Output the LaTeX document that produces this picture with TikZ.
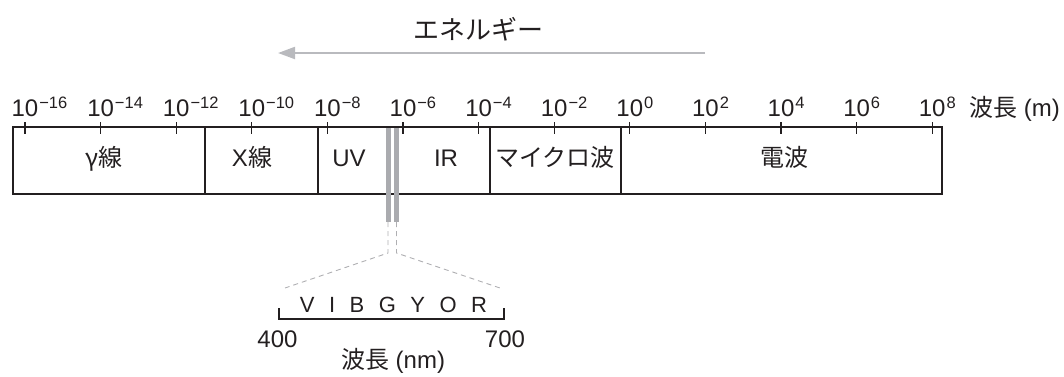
\documentclass[tikz,border=0pt]{standalone}
\usepackage{fontspec}
\setmainfont{Liberation Sans}
\newfontfamily\jp{Noto Sans CJK JP}
\usetikzlibrary{arrows.meta}
\definecolor{ink}{RGB}{35,31,32}
\definecolor{arrowgray}{RGB}{185,186,190}
\definecolor{bargray}{RGB}{170,171,175}
\definecolor{dashgray}{RGB}{175,175,178}
\newcommand{\tenpow}[1]{10\rlap{\kern1pt\raisebox{8pt}{\fontsize{16.5}{18}\selectfont #1}}}
\newcommand{\cg}{\hspace{14.5pt}}
\tikzset{
  axisline/.style={draw=ink, line width=1.1pt},
  ticklbl/.style={anchor=base, inner sep=0pt, text=ink, font=\fontsize{24}{28}\selectfont},
  bandlbl/.style={anchor=base, inner sep=0pt, text=ink, font=\fontsize{24}{28}\selectfont},
  visbar/.style={fill=bargray},
  zoomdash/.style={draw=dashgray, line width=0.9pt, dash pattern=on 5pt off 4pt},
  colorlbl/.style={anchor=base, inner sep=0pt, text=ink, font=\fontsize{22}{26}\selectfont},
}
\begin{document}
\begin{tikzpicture}[x=1pt,y=-1pt]
\useasboundingbox (0,0) rectangle (1064,376);
% energy arrow
\coordinate (eR) at (705,53);
\coordinate (eL) at (278,53);
\draw[draw=arrowgray, line width=2pt, -{Triangle[length=17pt,width=12pt,fill=arrowgray]}] (eR) -- (eL);
\node[anchor=base, inner sep=0pt, text=ink, font=\jp\fontsize{26}{30}\selectfont] (energy) at (478,39) {エネルギー};
% main box
\draw[axisline] (13,127) rectangle (942,194);
\foreach \x in {205,318,490,621} \draw[axisline] (\x,127) -- (\x,194);
% ticks and labels
\foreach \k/\e in {0/−16,1/−14,2/−12,3/−10,4/−8,5/−6,6/−4,7/−2,8/0,9/2,10/4,11/6,12/8}{
  \pgfmathsetmacro{\xx}{25+75.6*\k}
  \draw[axisline] (\xx,122) -- (\xx,134);
  \node[ticklbl] (t\k) at (\xx,116) {\tenpow{\e}};
}
\node[anchor=base west, inner sep=0pt, text=ink, font=\fontsize{24}{28}\selectfont] (unitm) at (969,116) {{\jp 波長} (m)};
% band labels
\node[bandlbl] (gamma) at (104,166) {\jp γ線};
\node[bandlbl] (xray) at (252,166) {X{\jp 線}};
\node[bandlbl] (uv) at (349,166) {UV};
\node[bandlbl] (ir) at (446,166) {IR};
\node[bandlbl] (micro) at (555,166) {\jp マイクロ波};
\node[bandlbl] (radio) at (784,166) {\jp 電波};
% visible bars
\fill[visbar] (385.5,128) rectangle (390.5,222);
\fill[visbar] (394,128) rectangle (399,222);
% zoom dashes
\coordinate (b1) at (388,222);
\coordinate (b2) at (396.5,222);
\coordinate (k1) at (388,253);
\coordinate (k2) at (396.5,253);
\coordinate (d1) at (285,288);
\coordinate (d2) at (500,288);
\draw[zoomdash] (b1) -- (k1) -- (d1);
\draw[zoomdash] (b2) -- (k2) -- (d2);
% bracket
\draw[draw=ink, line width=1.1pt] (279,308) -- (279,319) -- (504,319) -- (504,308);
\node[colorlbl] (vibgyor) at (393.5,312) {V\cg I\cg B\cg G\cg Y\cg O\cg R};
\node[ticklbl] (n400) at (277.5,347) {400};
\node[ticklbl] (n700) at (505,347) {700};
\node[ticklbl] (unitnm) at (393,368) {{\jp 波長} (nm)};
\end{tikzpicture}
\end{document}
